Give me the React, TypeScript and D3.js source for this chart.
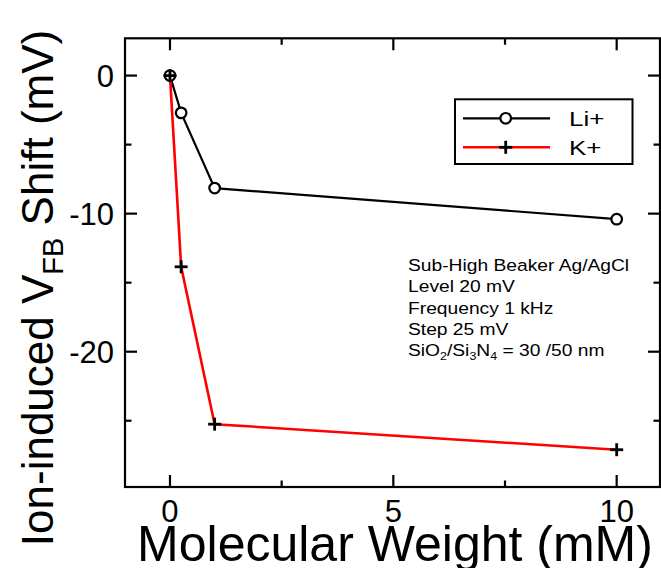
import React from "react";
import * as d3 from "d3";

const concentrations = [0, 0.25, 1, 10];
const liShift = [0, -2.7, -8.15, -10.4];
const kShift = [0, -13.85, -25.25, -27.1];
const xMajorTicks = [0, 5, 10];
const xMinorTicks = [2.5, 7.5];
const yMajorTicks = [0, -10, -20];
const yMinorTicks = [-5, -15, -25];
const seriesNames = ["Li+", "K+"];
const annotationLines = ["Sub-High Beaker Ag/AgCl", "Level 20 mV", "Frequency 1 kHz", "Step 25 mV"];

const W = 661;
const H = 568;
const L = 125, R = 660, T = 38.3, B = 487;
const FONT = "'Liberation Sans', Arial, Helvetica, sans-serif";

export default function App() {
  const x = d3.scaleLinear().domain([-1.007, 10.97]).range([L, R]);
  const y = d3.scaleLinear().domain([2.7, -29.8]).range([T, B]);
  const line = d3
    .line<[number, number]>()
    .x((d) => x(d[0]))
    .y((d) => y(d[1]));
  const liPts: [number, number][] = concentrations.map((c, i) => [c, liShift[i]]);
  const kPts: [number, number][] = concentrations.map((c, i) => [c, kShift[i]]);
  const major = 12;
  const minor = 6.5;
  const tw = 2.2;

  const cross = (cx: number, cy: number, key: string) => (
    <g key={key} stroke="#000" strokeWidth={2.8}>
      <line x1={cx - 6.5} x2={cx + 6.5} y1={cy} y2={cy} />
      <line x1={cx} x2={cx} y1={cy - 6.5} y2={cy + 6.5} />
    </g>
  );

  const annSx = 1.18;
  const legSx = 1.3;

  return (
    <svg
      width={W}
      height={H}
      viewBox={`0 0 ${W} ${H}`}
      style={{ position: "fixed", left: 0, top: 0, background: "#fff", fontFamily: FONT }}
    >
      <rect x={0} y={0} width={W} height={H} fill="#fff" />
      {/* ticks */}
      <g stroke="#000" strokeWidth={tw}>
        {xMajorTicks.map((t) => (
          <g key={"xM" + t}>
            <line x1={x(t)} x2={x(t)} y1={B} y2={B - major} />
            <line x1={x(t)} x2={x(t)} y1={T} y2={T + major} />
          </g>
        ))}
        {xMinorTicks.map((t) => (
          <g key={"xm" + t}>
            <line x1={x(t)} x2={x(t)} y1={B} y2={B - minor} />
            <line x1={x(t)} x2={x(t)} y1={T} y2={T + minor} />
          </g>
        ))}
        {yMajorTicks.map((t) => (
          <g key={"yM" + t}>
            <line x1={L} x2={L + major} y1={y(t)} y2={y(t)} />
            <line x1={R} x2={R - major} y1={y(t)} y2={y(t)} />
          </g>
        ))}
        {yMinorTicks.map((t) => (
          <g key={"ym" + t}>
            <line x1={L} x2={L + minor} y1={y(t)} y2={y(t)} />
            <line x1={R} x2={R - minor} y1={y(t)} y2={y(t)} />
          </g>
        ))}
      </g>
      <rect x={L} y={T} width={R - L} height={B - T} fill="none" stroke="#000" strokeWidth={2.2} />

      {/* tick labels */}
      <g fontSize={31} fill="#000">
        {xMajorTicks.map((t) => (
          <text key={"xl" + t} x={x(t)} y={522} textAnchor="middle">
            {t}
          </text>
        ))}
        {yMajorTicks.map((t) => (
          <text key={"yl" + t} x={114} y={y(t) + 11} textAnchor="end">
            {t}
          </text>
        ))}
      </g>

      {/* axis titles */}
      <text x={395} y={561} textAnchor="middle" fontSize={50} fill="#000">
        Molecular Weight (mM)
      </text>
      <text
        transform={`translate(53, 288) rotate(-90)`}
        textAnchor="middle"
        fontSize={44}
        fill="#000"
      >
        Ion-induced V
        <tspan fontSize={29} dy={10}>FB</tspan>
        <tspan dy={-10}> Shift (mV)</tspan>
      </text>

      {/* series */}
      <path d={line(liPts) || ""} fill="none" stroke="#000" strokeWidth={2.2} />
      <path d={line(kPts) || ""} fill="none" stroke="#ff0000" strokeWidth={2.6} />
      {liPts.map((p, i) => (
        <circle key={"c" + i} cx={x(p[0])} cy={y(p[1])} r={5.3} fill="#fff" stroke="#000" strokeWidth={2.2} />
      ))}
      {kPts.map((p, i) => cross(x(p[0]), y(p[1]), "k" + i))}

      {/* legend */}
      <rect x={455} y={99.3} width={177.5} height={64.7} fill="#fff" stroke="#000" strokeWidth={2} />
      <line x1={463} x2={550} y1={118.3} y2={118.3} stroke="#000" strokeWidth={2.2} />
      <circle cx={505.7} cy={118.3} r={5.3} fill="#fff" stroke="#000" strokeWidth={2.2} />
      <text transform={`translate(569, 125.5) scale(${legSx}, 1)`} fontSize={20} fill="#000">
        {seriesNames[0]}
      </text>
      <line x1={463} x2={550} y1={147.3} y2={147.3} stroke="#ff0000" strokeWidth={2.6} />
      {cross(505.7, 147.3, "legk")}
      <text transform={`translate(569, 154.5) scale(${legSx}, 1)`} fontSize={20} fill="#000">
        {seriesNames[1]}
      </text>

      {/* annotation */}
      <g fontSize={16.3} fill="#000">
        {annotationLines.map((s, i) => (
          <text key={"a" + i} transform={`translate(408, ${271 + i * 21.3}) scale(${annSx}, 1)`}>
            {s}
          </text>
        ))}
        <text transform={`translate(408, ${271 + 4 * 21.3}) scale(${annSx}, 1)`}>
          SiO<tspan fontSize={10.5} dy={4}>2</tspan>
          <tspan dy={-4}>/Si</tspan>
          <tspan fontSize={10.5} dy={4}>3</tspan>
          <tspan dy={-4}>N</tspan>
          <tspan fontSize={10.5} dy={4}>4</tspan>
          <tspan dy={-4}> = 30 /50 nm</tspan>
        </text>
      </g>
    </svg>
  );
}
